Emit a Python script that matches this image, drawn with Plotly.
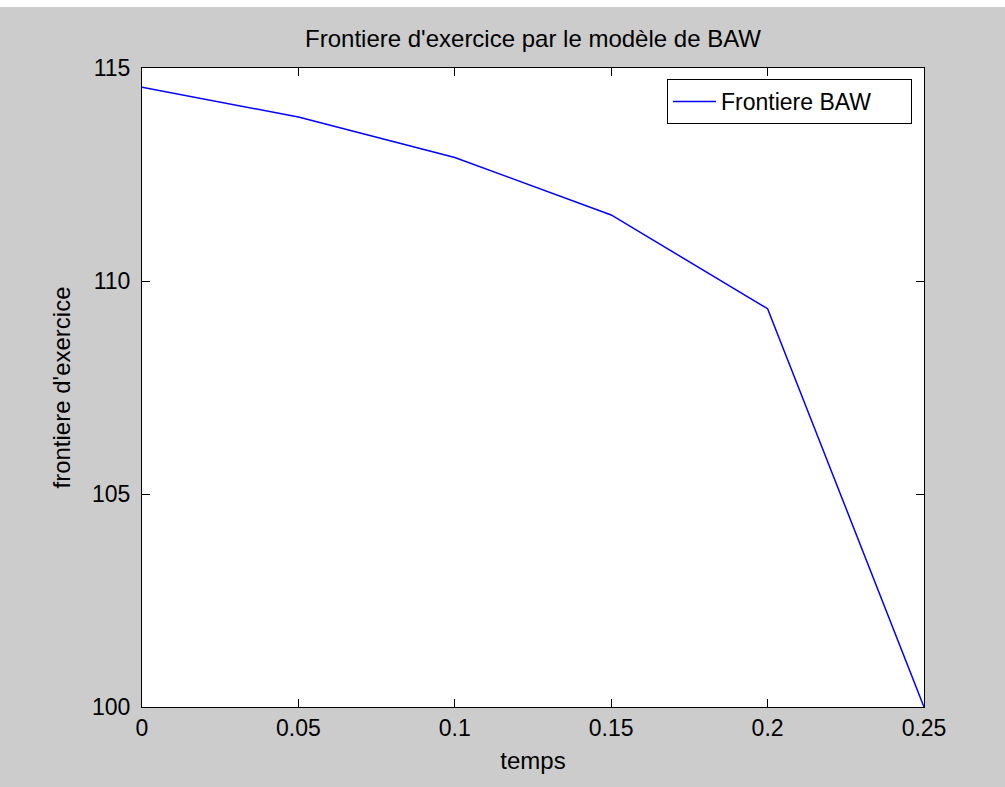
import plotly.graph_objects as go

temps = [0, 0.05, 0.1, 0.15, 0.2, 0.25]
frontiere = [114.55, 113.85, 112.9, 111.55, 109.35, 100.0]

x_ticks = [0, 0.05, 0.1, 0.15, 0.2, 0.25]
x_tick_labels = ["0", "0.05", "0.1", "0.15", "0.2", "0.25"]
y_ticks = [100, 105, 110, 115]
y_tick_labels = ["100", "105", "110", "115"]

W, H = 1005, 787
L, R, T, B = 142, 81, 68, 80
pw, ph = W - L - R, H - T - B

font = "Liberation Sans, Arial, sans-serif"

fig = go.Figure()
fig.add_trace(go.Scatter(x=temps, y=frontiere, mode="lines", name="Frontiere BAW",
                         line=dict(color="#0000ff", width=1.5)))

axis_common = dict(showline=True, linecolor="black", linewidth=1, mirror="ticks",
                   ticks="inside", ticklen=8, tickcolor="black", tickwidth=1,
                   showgrid=False, zeroline=False,
                   tickfont=dict(family=font, size=23, color="black"))

fig.update_layout(
    width=W, height=H,
    margin=dict(l=L, r=R, t=T, b=B, pad=0),
    paper_bgcolor="#cccccc", plot_bgcolor="white",
    title=dict(text="Frontiere d'exercice par le modèle de BAW", x=(L + pw / 2) / W,
               xanchor="center", y=1 - 39 / H, yanchor="middle",
               font=dict(family=font, size=24, color="black")),
    xaxis=dict(range=[0, 0.25], tickvals=x_ticks, ticktext=x_tick_labels,
               title=dict(text="temps", font=dict(family=font, size=24, color="black"), standoff=12),
               ticklabelstandoff=0, **axis_common),
    yaxis=dict(range=[100, 115], tickvals=y_ticks, ticktext=y_tick_labels,
               title=dict(text="frontiere d'exercice", font=dict(family=font, size=24, color="black"), standoff=14),
               ticklabelstandoff=6, **axis_common),
    showlegend=True,
    legend=dict(orientation="h", x=(912 - L) / pw, y=(H - B - 79) / ph, xanchor="right", yanchor="top",
                bgcolor="white", bordercolor="black", borderwidth=1,
                font=dict(family=font, size=23, color="black"), itemwidth=43,
                entrywidth=185, entrywidthmode="pixels"),
    shapes=[dict(type="rect", xref="paper", yref="paper",
                 x0=-L / pw, x1=1 + R / pw, y0=1 + (T - 7) / ph, y1=1 + T / ph,
                 fillcolor="white", line=dict(width=0), layer="above")],
)

fig.write_html("out.html", config={"displayModeBar": False},
               post_script="document.body.style.margin='0';document.body.style.overflow='hidden';")
